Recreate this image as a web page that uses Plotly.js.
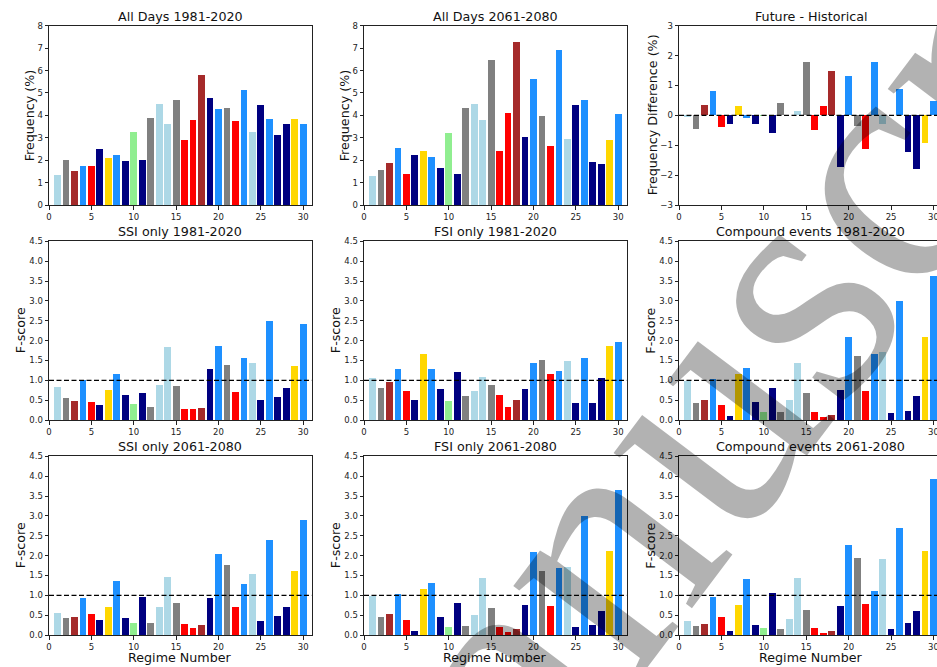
<!DOCTYPE html>
<html>
<head>
<meta charset="utf-8">
<script src="https://cdn.plot.ly/plotly-3.0.1.min.js"></script>
<style>
html,body{margin:0;padding:0;overflow:hidden;background:#fff;}
#chart{width:945px;height:667px;}
</style>
</head>
<body>
<div id="chart"></div>
<script>
// ---- data ----
const regimes = Array.from({length:30},(_,i)=>i+1);
const regimeColors = ['#add8e6','#808080','#a52a2a','#1e90ff','#ff0000','#000080','#ffd700','#1e90ff','#000080','#90ee90',
  '#000080','#808080','#add8e6','#add8e6','#808080','#ff0000','#ff0000','#a52a2a','#000080','#1e90ff',
  '#808080','#ff0000','#1e90ff','#add8e6','#000080','#1e90ff','#000080','#000080','#ffd700','#1e90ff'];

const allDaysHist = [1.35,2.01,1.52,1.75,1.75,2.50,2.10,2.25,1.96,3.26,2.01,3.90,4.51,3.61,4.68,2.90,3.79,5.80,4.77,4.28,4.34,3.75,5.13,3.26,4.46,3.85,3.12,3.61,3.85,3.61];
const allDaysFut  = [1.31,1.56,1.87,2.54,1.40,2.23,2.41,2.14,1.65,3.21,1.40,4.33,4.51,3.79,6.47,2.41,4.10,7.27,3.03,5.62,3.97,2.63,6.91,2.94,4.46,4.68,1.92,1.83,2.90,4.06];
const freqDiff    = [-0.07,-0.44,0.36,0.83,-0.40,-0.30,0.32,-0.10,-0.30,-0.03,-0.60,0.42,0.00,0.16,1.77,-0.50,0.32,1.50,-1.74,1.33,-0.37,-1.14,1.80,-0.30,0.00,0.89,-1.21,-1.81,-0.94,0.49];
const ssiHist     = [0.84,0.55,0.48,1.01,0.45,0.38,0.76,1.16,0.63,0.40,0.68,0.33,0.88,1.84,0.86,0.28,0.28,0.30,1.28,1.86,1.39,0.71,1.56,1.44,0.50,2.49,0.58,0.81,1.36,2.42];
const fsiHist     = [1.06,0.81,0.96,1.28,0.73,0.50,1.66,1.28,0.78,0.48,1.21,0.60,0.73,1.08,0.88,0.63,0.33,0.50,0.78,1.44,1.51,1.16,1.23,1.49,0.43,1.56,0.43,1.06,1.86,1.96];
const compHist    = [0.98,0.43,0.50,1.03,0.38,0.10,1.16,1.31,0.45,0.20,0.81,0.20,0.50,1.44,0.68,0.20,0.08,0.13,0.76,2.09,1.61,0.73,1.66,1.71,0.18,3.00,0.23,0.60,2.09,3.63];
const ssiFut      = [0.55,0.43,0.45,0.93,0.53,0.38,0.71,1.36,0.43,0.30,0.96,0.30,0.71,1.46,0.81,0.28,0.18,0.25,0.93,2.04,1.76,0.71,1.28,1.54,0.35,2.39,0.48,0.71,1.61,2.90];
const fsiFut      = [0.98,0.45,0.53,1.03,0.38,0.10,1.16,1.31,0.45,0.20,0.81,0.23,0.50,1.44,0.68,0.20,0.08,0.15,0.76,2.09,1.61,0.73,1.68,1.71,0.20,3.00,0.25,0.60,2.11,3.65];
const compFut     = [0.35,0.23,0.28,0.96,0.45,0.10,0.76,1.41,0.25,0.18,1.06,0.15,0.40,1.44,0.63,0.18,0.05,0.10,0.73,2.27,1.94,0.78,1.11,1.91,0.15,2.69,0.30,0.60,2.11,3.93];

const panelTitles = ['All Days 1981-2020','All Days 2061-2080','Future - Historical',
  'SSI only 1981-2020','FSI only 1981-2020','Compound events 1981-2020',
  'SSI only 2061-2080','FSI only 2061-2080','Compound events 2061-2080'];
const panelValues = [allDaysHist,allDaysFut,freqDiff,ssiHist,fsiHist,compHist,ssiFut,fsiFut,compFut];
const yTitles = ['Frequency (%)','Frequency (%)','Frequency Difference (%)','F-score','F-score','F-score','F-score','F-score','F-score'];
const xTickVals = [0,5,10,15,20,25,30];
const freqTicks = [0,1,2,3,4,5,6,7,8];
const diffTicks = [-3,-2,-1,0,1,2,3];
const fTicks = [0,0.5,1,1.5,2,2.5,3,3.5,4,4.5];
const xTitle = 'Regime Number';
const watermark = 'Manuscript';

// ---- layout geometry (pixels) ----
const W = 945, H = 667;
const colPx = [[49,311.7],[364,626.7],[679,942]];
const rowPx = [[25.7,205],[241.3,420],[456.3,635]];
const yTitleX = [[29,344,652],[20.5,335.5,651],[20.5,335.5,651]];
const titleY = [16.5,231.7,446.7];

const fx = p => p/W;
const fy = p => 1 - p/H;

const font = 'DejaVu Sans, sans-serif';
const traces = [], shapes = [], annotations = [];
const layout = {
  width: W, height: H,
  margin: {l:0,r:0,t:0,b:0},
  paper_bgcolor: '#fff', plot_bgcolor: '#fff',
  showlegend: false,
  font: {family: font, color: '#111'},
  bargap: 0
};

for (let i=0;i<9;i++){
  const r = Math.floor(i/3), c = i%3;
  const n = i===0 ? '' : String(i+1);
  const xa = 'xaxis'+n, ya = 'yaxis'+n;
  let yr, yt, ref, ytext;
  if (i<2){ yr=[0,8]; yt=freqTicks; ref=null; ytext=yt.map(String); }
  else if (i===2){ yr=[-3,3]; yt=diffTicks; ref=0; ytext=yt.map(v=>v<0?'\u2212'+Math.abs(v):String(v)); }
  else { yr=[0,4.5]; yt=fTicks; ref=1; ytext=yt.map(v=>v.toFixed(1)); }
  const axCommon = {showgrid:false, zeroline:false, showline:true, mirror:true, linecolor:'#222', linewidth:1,
    ticks:'outside', ticklen:3.5, tickwidth:1, tickcolor:'#222', tickfont:{family:font,size:8.5,color:'#222'}, fixedrange:true};
  layout[xa] = Object.assign({}, axCommon, {domain:[fx(colPx[c][0]), Math.min(1,fx(colPx[c][1]))], range:[0,31],
    tickmode:'array', tickvals:xTickVals, ticktext:xTickVals.map(String), anchor:'y'+n});
  layout[ya] = Object.assign({}, axCommon, {domain:[fy(rowPx[r][1]), fy(rowPx[r][0])], range:yr,
    tickmode:'array', tickvals:yt, ticktext:ytext, anchor:'x'+n});
  traces.push({type:'bar', x:regimes, y:panelValues[i], xaxis:'x'+n, yaxis:'y'+n,
    marker:{color:regimeColors, line:{width:0}}, width:0.8, hoverinfo:'skip'});
  if (ref!==null){
    shapes.push({type:'line', xref:'x'+n+' domain', x0:0, x1:1, yref:'y'+n, y0:ref, y1:ref,
      line:{color:'#000', width:1.3, dash:'5px,2.5px'}, layer:'above'});
  }
  annotations.push({text:panelTitles[i], xref:'paper', yref:'paper', showarrow:false,
    x: fx((colPx[c][0]+colPx[c][1])/2), y: fy(titleY[r]), xanchor:'center', yanchor:'middle',
    font:{family:font,size:12.7,color:'#111'}});
  annotations.push({text:yTitles[i], xref:'paper', yref:'paper', showarrow:false, textangle:-90,
    x: fx(yTitleX[r][c]), y: fy((rowPx[r][0]+rowPx[r][1])/2), xanchor:'center', yanchor:'middle',
    font:{family:font,size:12.7,color:'#111'}});
  if (r===2){
    annotations.push({text:xTitle, xref:'paper', yref:'paper', showarrow:false,
      x: fx((colPx[c][0]+colPx[c][1])/2), y: fy(657.5), xanchor:'center', yanchor:'middle',
      font:{family:font,size:12.7,color:'#111'}});
  }
}
annotations.push({text:watermark, xref:'paper', yref:'paper', showarrow:false, textangle:-53,
  x: fx(735), y: fy(360), xanchor:'center', yanchor:'middle',
  font:{family:'Liberation Serif, serif', size:340, color:'rgba(0,0,0,0.3)'}});

layout.shapes = shapes;
layout.annotations = annotations;
Plotly.newPlot('chart', traces, layout, {staticPlot:true, displayModeBar:false});
</script>
</body>
</html>
